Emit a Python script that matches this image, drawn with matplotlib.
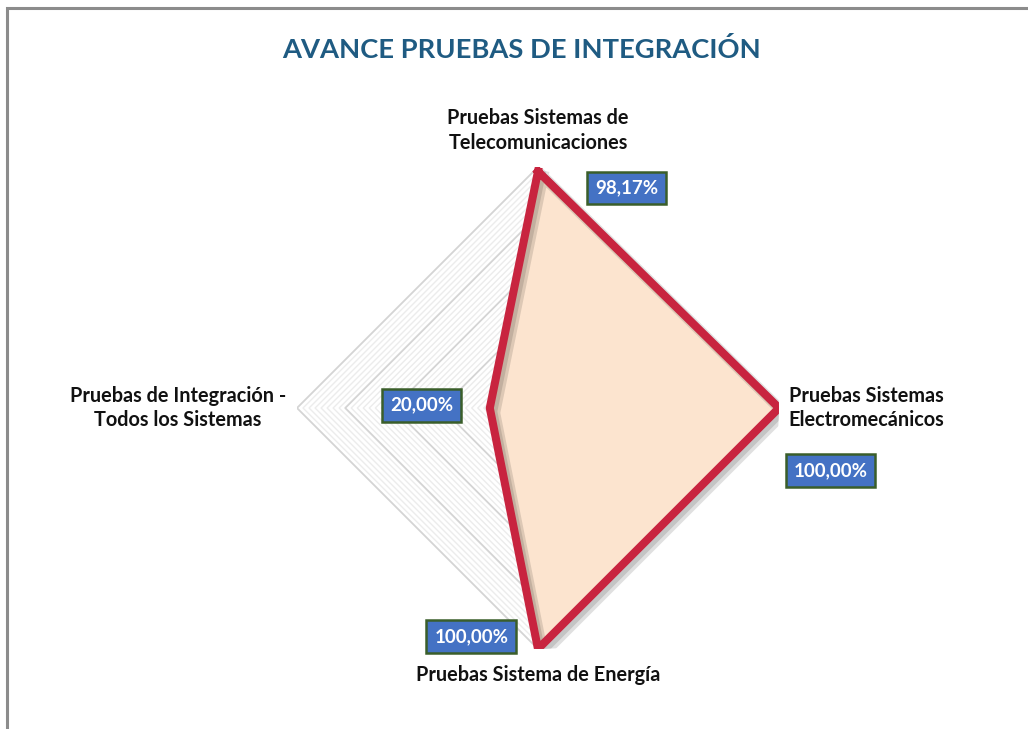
import numpy as np
import matplotlib
matplotlib.use("Agg")
import matplotlib.pyplot as plt
from matplotlib.patches import Rectangle
import matplotlib.patheffects as pe

# ---- data ----
categories = ["Pruebas Sistemas de\nTelecomunicaciones",
              "Pruebas Sistemas\nElectromecánicos",
              "Pruebas Sistema de Energía",
              "Pruebas de Integración -\nTodos los Sistemas"]
values = [0.9817, 1.00, 1.00, 0.20]
value_labels = ["98,17%", "100,00%", "100,00%", "20,00%"]
title = "AVANCE PRUEBAS DE INTEGRACIÓN"
major_levels = [0.2, 0.4, 0.6, 0.8, 1.0]
minor_levels = list(np.arange(0.025, 1.0, 0.025))

plt.rcParams['font.family'] = ['Lato', 'DejaVu Sans']

W, H = 1028, 729
fig = plt.figure(figsize=(W / 100, H / 100), dpi=100)

# border of chart area
fig.patches.append(Rectangle((7 / W, -0.01), 1.05, (H - 8) / H + 0.01,
                             transform=fig.transFigure, fill=False,
                             edgecolor="#8c8c8c", linewidth=2.2))

cx, cy, R = 538, 408, 241
ax = fig.add_axes([(cx - R) / W, (H - cy - R) / H, 2 * R / W, 2 * R / H],
                  projection="polar")
ax.set_theta_offset(np.pi / 2)
ax.set_theta_direction(-1)
ax.set_ylim(0, 1)
ax.grid(False)
ax.spines["polar"].set_visible(False)
ax.set_xticks([])
ax.set_yticks([])
ax.patch.set_alpha(0)

n = len(categories)
theta = np.linspace(0, 2 * np.pi, n, endpoint=False)
theta_c = np.append(theta, theta[0])

for lv in minor_levels:
    if any(abs(lv - m) < 1e-6 for m in major_levels):
        continue
    ax.plot(theta_c, [lv] * (n + 1), color="#ececec", lw=1.0, zorder=1)
for lv in major_levels:
    ax.plot(theta_c, [lv] * (n + 1), color="#d4d4d4", lw=1.3, zorder=1.1)

vals_c = np.append(values, values[0])
ax.fill(theta_c, vals_c, color="#fce4cf", zorder=2)
shadow = [pe.SimpleLineShadow(offset=(3.5, -3.5), shadow_color="#000000",
                              alpha=0.12, rho=0.3, linewidth=8),
          pe.SimpleLineShadow(offset=(2.5, -2.5), shadow_color="#000000",
                              alpha=0.12, rho=0.3),
          pe.Normal()]
ax.plot(theta_c, vals_c, color="#c8243f", lw=5.8, solid_joinstyle="miter",
        zorder=3, path_effects=shadow)

# data labels
offsets = [(64, -12), (37, -45), (-48, 9), (-49, 2)]
for t, v, lab, off in zip(theta, values, value_labels, offsets):
    ax.annotate(lab, xy=(t, v), xytext=off, textcoords="offset points",
                ha="center", va="center", color="white", fontsize=13.5,
                fontweight="bold", zorder=5, annotation_clip=False,
                bbox=dict(boxstyle="square,pad=0.42", facecolor="#4472c4",
                          edgecolor="#3a5e2a", linewidth=1.8))

# category labels
cat_off = [(0, 26), (7, 0), (0, -19), (-8, 0)]
cat_ha = ["center", "left", "center", "right"]
for t, c, off, ha in zip(theta, categories, cat_off, cat_ha):
    ax.annotate(c, xy=(t, 1.0), xytext=off, textcoords="offset points",
                ha=ha, va="center", multialignment="center" if ha != "left" else "left",
                fontsize=14.3, fontweight="bold", color="#111111",
                annotation_clip=False, linespacing=1.3)

fig.text(522 / W, 1 - 49.5 / H, title, ha="center", va="center",
         fontsize=19.7, fontweight="bold", color="#1f5b82")

fig.savefig("out.png", dpi=100)
